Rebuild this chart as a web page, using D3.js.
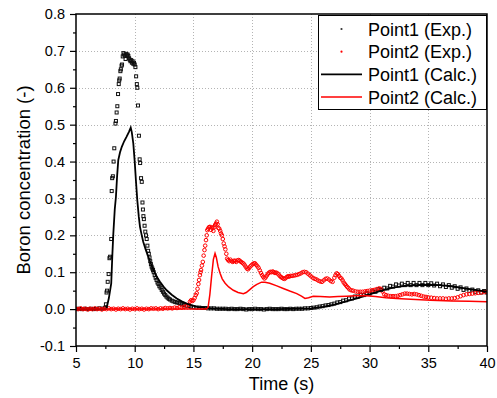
<!DOCTYPE html>
<html>
<head>
<meta charset="utf-8">
<script src="https://cdn.jsdelivr.net/npm/d3@7"></script>
<style>
  body { margin: 0; background: #fff; }
  text { font-family: "Liberation Sans", Arial, sans-serif; fill: #000; }
</style>
</head>
<body>
<script>
const w = 497,
  h = 398,
  margin = { top: 14, right: 10, bottom: 52, left: 76 };

// tick values
const xTicks = [5, 10, 15, 20, 25, 30, 35, 40];
const xMinor = [7.5, 12.5, 17.5, 22.5, 27.5, 32.5, 37.5];
const yTicks = [-0.1, 0.0, 0.1, 0.2, 0.3, 0.4, 0.5, 0.6, 0.7, 0.8];
const yTickLabels = ['-0.1', '0.0', '0.1', '0.2', '0.3', '0.4', '0.5', '0.6', '0.7', '0.8'];
const yMinor = [-0.05, 0.05, 0.15, 0.25, 0.35, 0.45, 0.55, 0.65, 0.75];

const legendLabels = ['Point1 (Exp.)', 'Point2 (Exp.)', 'Point1 (Calc.)', 'Point2 (Calc.)'];

// Point1 measured [time, conc]
const point1Exp = [
  [5, .000], [5.25, .001], [5.5, .000], [5.75, .001], [6, .000], [6.25, .001], [6.5, .000], [6.75, .001],
  [7, .002], [7.25, .001], [7.45, .003], [7.5, .004], [7.55, .013], [7.6, .045], [7.64, .050], [7.7, .074],
  [7.78, .095], [7.85, .138], [7.9, .142], [8.0, .190], [8.04, .320], [8.08, .355], [8.14, .360], [8.2, .400],
  [8.26, .436], [8.36, .503], [8.4, .510], [8.46, .533], [8.52, .550], [8.58, .583], [8.64, .610], [8.68, .620],
  [8.72, .625], [8.78, .645], [8.82, .650], [8.88, .660], [8.92, .663], [8.98, .685], [9.04, .694], [9.1, .690],
  [9.16, .687], [9.22, .678], [9.28, .692], [9.34, .688], [9.4, .690], [9.46, .686], [9.52, .680], [9.58, .676],
  [9.64, .672], [9.7, .675], [9.76, .668], [9.82, .672], [9.88, .665], [9.94, .668], [10.0, .663], [10.06, .656],
  [10.12, .631], [10.18, .610], [10.22, .600], [10.28, .552], [10.36, .470], [10.42, .406], [10.46, .396],
  [10.54, .355], [10.6, .345], [10.66, .289], [10.7, .270], [10.74, .252], [10.78, .244], [10.84, .226],
  [10.9, .210], [10.96, .200], [11.02, .190], [11.08, .172], [11.14, .158], [11.2, .150], [11.26, .140],
  [11.32, .130], [11.38, .122], [11.44, .115], [11.5, .110], [11.56, .106], [11.62, .100], [11.7, .092],
  [11.78, .085], [11.86, .079], [11.94, .072], [12.02, .068], [12.1, .062], [12.2, .058], [12.3, .052],
  [12.4, .047], [12.5, .042], [12.6, .038], [12.7, .034], [12.8, .031], [12.9, .028], [13.0, .026],
  [13.15, .023], [13.3, .021], [13.45, .019], [13.6, .018], [13.75, .017], [13.9, .015], [14.05, .013],
  [14.2, .011], [14.4, .009], [14.6, .008], [14.8, .006], [15.0, .005],
  [15.25, .004], [15.5, .004], [15.75, .003], [16, .003], [16.25, .002], [16.5, .002], [16.75, .002], [17, .001],
  [17.25, .001], [17.5, .001], [17.75, .001], [18, .000], [18.25, .001], [18.5, .000], [18.75, .000], [19, .001],
  [19.25, .000], [19.5, -.001], [19.75, .000], [20, .000], [20.25, .001], [20.5, .000], [20.75, .000], [21, -.001],
  [21.25, .000], [21.5, .001], [21.75, .000], [22, .000], [22.25, .000], [22.5, .001], [22.75, .000], [23, .000],
  [23.25, .001], [23.5, .000], [23.75, .001], [24, .001], [24.25, .001], [24.5, .002], [24.75, .002], [25, .003],
  [25.25, .004], [25.5, .005], [25.75, .007], [26, .008], [26.25, .010], [26.5, .011], [26.75, .013], [27, .015],
  [27.25, .018], [27.5, .019], [27.75, .023], [28, .024], [28.25, .029], [28.5, .029], [28.75, .034], [29, .034],
  [29.25, .039], [29.5, .038], [29.75, .043], [30, .042], [30.25, .048], [30.5, .047], [30.75, .054], [31, .052],
  [31.25, .058], [31.5, .056], [31.75, .063], [32, .061], [32.25, .067], [32.5, .064], [32.75, .069], [33, .065],
  [33.25, .071], [33.5, .065], [33.75, .071], [34, .065], [34.25, .071], [34.5, .065], [34.75, .071], [35, .065],
  [35.25, .070], [35.5, .064], [35.75, .069], [36, .062], [36.25, .067], [36.5, .060], [36.75, .065], [37, .058],
  [37.25, .062], [37.5, .055], [37.75, .059], [38, .052], [38.25, .056], [38.5, .049], [38.75, .053], [39, .047],
  [39.25, .051], [39.5, .045], [39.75, .049], [40, .045]
];

// Point2 measured [time, conc]
const point2Exp = [
  [5.0, .001], [5.2, .000], [5.4, .002], [5.6, .000], [5.8, .001], [6.0, -.001], [6.2, .001], [6.4, .000],
  [6.6, .002], [6.8, .000], [7.0, .001], [7.2, -.001], [7.4, .001], [7.6, .000], [7.8, .002], [8.0, .000],
  [8.2, .001], [8.4, -.001], [8.6, .001], [8.8, .000], [9.0, .002], [9.2, .000], [9.4, .001], [9.6, -.001],
  [9.8, .001], [10.0, .000], [10.2, .002], [10.4, .000], [10.6, .001], [10.8, -.001], [11.0, .001], [11.2, .000],
  [11.4, .002], [11.6, .001], [11.8, .002], [12.0, .000], [12.2, .002], [12.4, .001], [12.6, .003], [12.8, .002],
  [13.0, .003], [13.2, .002], [13.4, .004], [13.6, .003], [13.8, .005], [14.0, .004], [14.2, .006], [14.4, .008],
  [14.6, .012], [14.7, .020], [14.8, .024], [14.9, .022], [15.0, .024], [15.1, .030], [15.2, .038], [15.28, .043],
  [15.35, .055], [15.42, .068], [15.48, .079], [15.55, .092], [15.6, .100], [15.65, .106], [15.72, .118],
  [15.8, .128], [15.87, .145], [15.94, .160], [16.0, .172], [16.07, .187], [16.13, .200], [16.18, .214],
  [16.25, .218], [16.32, .222], [16.4, .223], [16.48, .215], [16.55, .222], [16.62, .219], [16.7, .212],
  [16.78, .222], [16.85, .228], [16.92, .232], [17.0, .237], [17.06, .230], [17.12, .220], [17.2, .218],
  [17.28, .212], [17.35, .205], [17.42, .200], [17.5, .190], [17.58, .178], [17.65, .170], [17.72, .162],
  [17.8, .150], [17.87, .137], [17.95, .133], [18.05, .130], [18.15, .134], [18.25, .130], [18.35, .128],
  [18.45, .131], [18.55, .131], [18.65, .128], [18.75, .132], [18.85, .133], [18.95, .131], [19.05, .128],
  [19.15, .126], [19.25, .124], [19.35, .120], [19.45, .115], [19.55, .110], [19.65, .108], [19.75, .112],
  [19.85, .116], [19.95, .119], [20.05, .122], [20.15, .124], [20.25, .124], [20.35, .120], [20.45, .116],
  [20.55, .112], [20.65, .105], [20.75, .098], [20.85, .092], [20.95, .087], [21.05, .083], [21.15, .086],
  [21.25, .091], [21.35, .096], [21.45, .099], [21.55, .101], [21.65, .100], [21.75, .102], [21.85, .100],
  [21.95, .098], [22.05, .099], [22.15, .097], [22.25, .094], [22.35, .090], [22.45, .087], [22.55, .085],
  [22.65, .083], [22.75, .082], [22.85, .084], [22.95, .087], [23.05, .089], [23.15, .088], [23.25, .090],
  [23.4, .090], [23.55, .091], [23.7, .092], [23.85, .093], [24.0, .095], [24.15, .097], [24.3, .100],
  [24.45, .101], [24.6, .100], [24.75, .096], [24.9, .092], [25.05, .088], [25.2, .084], [25.35, .082],
  [25.5, .080], [25.65, .077], [25.8, .075], [25.95, .074], [26.1, .078], [26.25, .082], [26.4, .083],
  [26.55, .080], [26.7, .076], [26.85, .074], [27.0, .085], [27.1, .092], [27.2, .097], [27.3, .095],
  [27.4, .090], [27.5, .085], [27.6, .083], [27.7, .078], [27.8, .072], [27.9, .068], [28.0, .064],
  [28.1, .060], [28.2, .057], [28.3, .053], [28.45, .051], [28.6, .050], [28.8, .048], [29.0, .047],
  [29.2, .047], [29.4, .047], [29.6, .048], [29.8, .049], [30.0, .050], [30.2, .051], [30.4, .052],
  [30.6, .054], [30.8, .056], [30.95, .055], [31.1, .048], [31.25, .040], [31.4, .038], [31.6, .036],
  [31.8, .035], [32.0, .035], [32.2, .035], [32.4, .036], [32.6, .038], [32.8, .040], [33.0, .042],
  [33.2, .042], [33.4, .041], [33.6, .040], [33.8, .041], [34.0, .040], [34.2, .038], [34.4, .036],
  [34.6, .034], [34.8, .033], [35.0, .032], [35.25, .031], [35.5, .030], [35.75, .029], [36.0, .029],
  [36.25, .029], [36.5, .028], [36.75, .029], [37.0, .029], [37.25, .030], [37.5, .032], [37.75, .035],
  [38.0, .038], [38.25, .040], [38.5, .041], [38.75, .042], [39.0, .043], [39.25, .044], [39.5, .045],
  [39.75, .046], [40.0, .047]
];

// calculated curves [time, conc]
const point1Calc = [
  [5, 0], [7.5, 0], [7.6, .002], [7.8, .030], [8.0, .070], [8.1, .150], [8.18, .205], [8.3, .270], [8.4, .304],
  [8.5, .360], [8.6, .404], [8.75, .425], [8.9, .440], [9.1, .455], [9.3, .467], [9.5, .480], [9.66, .492],
  [9.75, .480], [9.88, .449], [10.0, .400], [10.1, .350], [10.22, .295], [10.35, .250], [10.45, .223],
  [10.6, .200], [10.73, .182], [10.95, .160], [11.16, .142], [11.38, .123], [11.58, .106], [11.85, .089],
  [12.15, .074], [12.45, .061], [12.72, .051], [13.15, .039], [13.58, .029], [14.0, .021], [14.43, .015],
  [14.9, .010], [15.3, .006], [16, .003], [17, .001], [18, 0], [20, 0], [22, 0], [24, .001], [25, .002],
  [26, .006], [27, .012], [28, .021], [29, .030], [30, .040], [31, .050], [32, .058], [33, .063], [34, .065],
  [35, .066], [36, .065], [37, .062], [38, .057], [39, .052], [40, .047]
];

const point2Calc = [
  [5, 0], [16.1, 0], [16.25, .005], [16.4, .040], [16.55, .090], [16.7, .135], [16.84, .151], [16.95, .140],
  [17.1, .115], [17.27, .097], [17.45, .082], [17.7, .070], [18.0, .060], [18.4, .051], [18.8, .045],
  [19.25, .042], [19.5, .045], [19.8, .053], [20.1, .061], [20.4, .067], [20.8, .073], [21.1, .073],
  [21.5, .070], [22.1, .063], [22.65, .056], [23.2, .049], [23.8, .042], [24.2, .035], [24.5, .029],
  [24.8, .031], [25.2, .035], [25.8, .034], [26.6, .033], [27.3, .034], [28.05, .035], [28.8, .036],
  [29.5, .037], [30.5, .034], [31.4, .031], [32.3, .029], [33.5, .027], [35.2, .024], [37, .022],
  [38.5, .021], [40, .020]
];

const x = d3.scaleLinear()
  .domain([5, 40])
  .range([margin.left, w - margin.right]);

const y = d3.scaleLinear()
  .domain([-0.1, 0.8])
  .range([h - margin.bottom, margin.top]);

const svg = d3.select('body')
  .append('svg')
  .attr('width', w)
  .attr('height', h);

svg.append('defs').append('clipPath')
  .attr('id', 'plot')
  .append('rect')
  .attr('x', margin.left)
  .attr('y', margin.top)
  .attr('width', x.range()[1] - margin.left)
  .attr('height', y.range()[0] - margin.top);

// dotted grid
const grid = svg.append('g')
  .attr('stroke', '#b4b4b4')
  .attr('stroke-width', 1)
  .attr('stroke-dasharray', '1,2');

grid.selectAll('.gx')
  .data(xTicks.slice(1, -1))
  .enter()
  .append('line')
  .attr('x1', d => Math.round(x(d)) + 0.5)
  .attr('x2', d => Math.round(x(d)) + 0.5)
  .attr('y1', y(0.8))
  .attr('y2', y(-0.1));

grid.selectAll('.gy')
  .data(yTicks.slice(1, -1))
  .enter()
  .append('line')
  .attr('y1', d => Math.round(y(d)) + 0.5)
  .attr('y2', d => Math.round(y(d)) + 0.5)
  .attr('x1', x(5))
  .attr('x2', x(40));

const plot = svg.append('g').attr('clip-path', 'url(#plot)');

plot.append('g')
  .selectAll('rect')
  .data(point1Exp)
  .enter()
  .append('rect')
  .attr('x', d => x(d[0]) - 1.5)
  .attr('y', d => y(d[1]) - 1.5)
  .attr('width', 3)
  .attr('height', 3)
  .attr('fill', 'none')
  .attr('stroke', '#111')
  .attr('stroke-width', 1);

plot.append('g')
  .selectAll('circle')
  .data(point2Exp)
  .enter()
  .append('circle')
  .attr('cx', d => x(d[0]))
  .attr('cy', d => y(d[1]))
  .attr('r', 1.8)
  .attr('fill', 'none')
  .attr('stroke', '#ff0000')
  .attr('stroke-width', 1);

const line = d3.line()
  .x(d => x(d[0]))
  .y(d => y(d[1]));

plot.append('path')
  .datum(point1Calc)
  .attr('d', line)
  .attr('fill', 'none')
  .attr('stroke', '#000')
  .attr('stroke-width', 1.8);

plot.append('path')
  .datum(point2Calc)
  .attr('d', line)
  .attr('fill', 'none')
  .attr('stroke', '#ff0000')
  .attr('stroke-width', 1.5);

// axes
svg.append('g')
  .attr('transform', `translate(0, ${y(-0.1)})`)
  .call(d3.axisBottom(x).tickValues(xTicks).tickSize(6).tickPadding(6).tickFormat(d3.format('d')));

svg.append('g')
  .attr('transform', `translate(0, ${y(-0.1)})`)
  .call(d3.axisBottom(x).tickValues(xMinor).tickSize(3).tickFormat(''));

svg.append('g')
  .attr('transform', `translate(${x(5)}, 0)`)
  .call(d3.axisLeft(y).tickValues(yTicks).tickSize(6).tickPadding(5)
    .tickFormat((d, i) => yTickLabels[i]));

svg.append('g')
  .attr('transform', `translate(${x(5)}, 0)`)
  .call(d3.axisLeft(y).tickValues(yMinor).tickSize(3).tickFormat(''));

svg.selectAll('.tick line').attr('stroke', '#000').attr('stroke-width', 1.2);
svg.selectAll('.domain').remove();
svg.selectAll('.tick text')
  .attr('font-size', '14.5px')
  .attr('font-family', '"Liberation Sans", Arial, sans-serif')
  .attr('fill', '#1a1a1a');

// frame
svg.append('rect')
  .attr('x', x(5))
  .attr('y', y(0.8))
  .attr('width', x(40) - x(5))
  .attr('height', y(-0.1) - y(0.8))
  .attr('fill', 'none')
  .attr('stroke', '#000')
  .attr('stroke-width', 1.5);

// axis titles
svg.append('text')
  .attr('x', (x(5) + x(40)) / 2)
  .attr('y', 390)
  .attr('text-anchor', 'middle')
  .attr('font-size', '18px')
  .text('Time (s)');

svg.append('text')
  .attr('transform', `translate(30, ${(y(-0.1) + y(0.8)) / 2}) rotate(-90)`)
  .attr('text-anchor', 'middle')
  .attr('font-size', '18.5px')
  .text('Boron concentration (-)');

// legend
const legend = svg.append('g');
legend.append('rect')
  .attr('x', 318.5)
  .attr('y', 15.5)
  .attr('width', 168)
  .attr('height', 94)
  .attr('fill', '#fff')
  .attr('stroke', '#000')
  .attr('stroke-width', 1);

const legendColors = ['#333', '#ff0000', '#000', '#ff0000'];
const rows = legend.selectAll('.row')
  .data(legendLabels)
  .enter()
  .append('g')
  .attr('transform', (_, i) => `translate(0, ${29 + i * 22.7})`);

rows.filter((_, i) => i < 2)
  .append('circle')
  .attr('cx', 341.5)
  .attr('cy', 0)
  .attr('r', 1.1)
  .attr('fill', (_, i) => legendColors[i]);

rows.filter((_, i) => i >= 2)
  .append('line')
  .attr('x1', 321)
  .attr('x2', 362)
  .attr('y1', 0)
  .attr('y2', 0)
  .attr('stroke', (_, i) => legendColors[i + 2])
  .attr('stroke-width', (_, i) => i === 0 ? 1.8 : 1.5);

rows.append('text')
  .attr('x', 368)
  .attr('y', 6.5)
  .attr('font-size', '18px')
  .text(d => d);
</script>
</body>
</html>
